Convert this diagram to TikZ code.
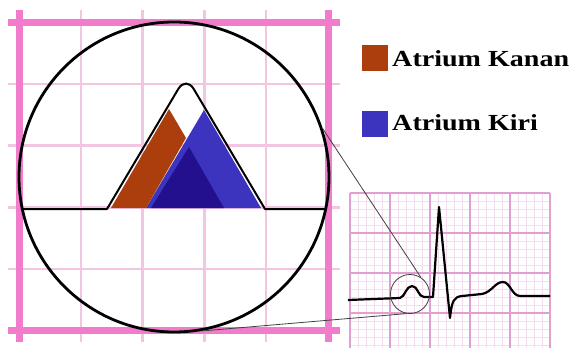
\documentclass[tikz,border=0pt]{standalone}
\usepackage{fontspec}
\setmainfont{Liberation Serif}
\usetikzlibrary{positioning}
\definecolor{gridpink}{HTML}{F07CCB}
\definecolor{gridlight}{HTML}{F2C6E0}
\definecolor{ecgminor}{HTML}{F6DCF0}
\definecolor{ecgmajor}{HTML}{E2A0D0}
\definecolor{kanan}{HTML}{AC3E0E}
\definecolor{kiri}{HTML}{3C33BE}
\definecolor{kiridark}{HTML}{22108E}

\begin{document}
\begin{tikzpicture}[x=1pt,y=-1pt,
    legbox/.style={draw=none,minimum size=26pt,inner sep=0pt},
    legtext/.style={font=\bfseries\fontsize{23}{23}\selectfont,xscale=1.22,inner sep=0pt},
    lens/.style={circle,draw,inner sep=0pt}]
      \useasboundingbox (0,0) rectangle (574,348);
      % big grid
      \foreach \i in {1,...,4} {
        \draw[gridlight,line width=2.5pt] ({19+61.8*\i},10) -- ({19+61.8*\i},342);
        \draw[gridlight,line width=2.5pt] (8,{22+61.8*\i}) -- (340,{22+61.8*\i});
      }
      \draw[gridpink,line width=7pt] (19,10) -- (19,342);
      \draw[gridpink,line width=7pt] (328,10) -- (328,342);
      \draw[gridpink,line width=7pt] (8,22) -- (340,22);
      \draw[gridpink,line width=7pt] (8,330) -- (340,330);
      % ecg grid
      \foreach \i in {0,...,25} \draw[ecgminor,line width=0.6pt] ({350+8*\i},193) -- ({350+8*\i},348);
      \foreach \i in {0,...,19} \draw[ecgminor,line width=0.6pt] (350,{193+8*\i}) -- (550,{193+8*\i});
      \foreach \i in {0,...,5} \draw[ecgmajor,line width=1.1pt] ({350+40*\i},193) -- ({350+40*\i},348);
      \foreach \i in {0,...,3} \draw[ecgmajor,line width=1.1pt] (350,{193+40*\i}) -- (550,{193+40*\i});
      % atria
      \fill[kiri] (146,208) -- (204,110) -- (261,208) -- cycle;
      \fill[kiridark] (151,208) -- (189,147) -- (224,208) -- cycle;
      \fill[kanan] (111,208) -- (169,109) -- (186,138) -- (146,208) -- cycle;
      \draw[line width=2pt,line join=round] (23,209) -- (107,209) [rounded corners=15pt] -- (186,76) [sharp corners] -- (265,209) -- (325,209);
      \node[lens,line width=2.8pt,minimum size=310pt] (zoom) at (174,177) {};
      % ecg trace
      \draw[line width=2.2pt,line join=round] (348,300) -- (400,298) .. controls (405,297) and (406,286) .. (412,286) .. controls (418,286) and (418,297) .. (424,297) -- (433,297) -- (439,207) -- (450,318) .. controls (452,300) and (454,297) .. (462,296) -- (482,294) .. controls (492,292) and (495,282) .. (503,282) .. controls (510,282) and (512,296) .. (520,296) -- (550,296);
      \node[lens,draw=black!75,line width=0.8pt,minimum size=39pt] (spot) at (410,294) {};
      \draw[black!75,line width=0.8pt] (zoom.18) -- (spot.57);
      \draw[black!75,line width=0.8pt] (zoom.-80) -- (spot.-100);
      % legend
      \node[legbox,fill=kanan] (kananbox) at (374.5,58) {};
      \node[legbox,fill=kiri] (kiribox) at (374.5,123.5) {};
      \node[legtext,anchor=base west] (kanantext) at (392,66) {Atrium Kanan};
      \node[legtext,anchor=base west] (kiritext) at (392,130) {Atrium Kiri};
    \end{tikzpicture}
\end{document}
